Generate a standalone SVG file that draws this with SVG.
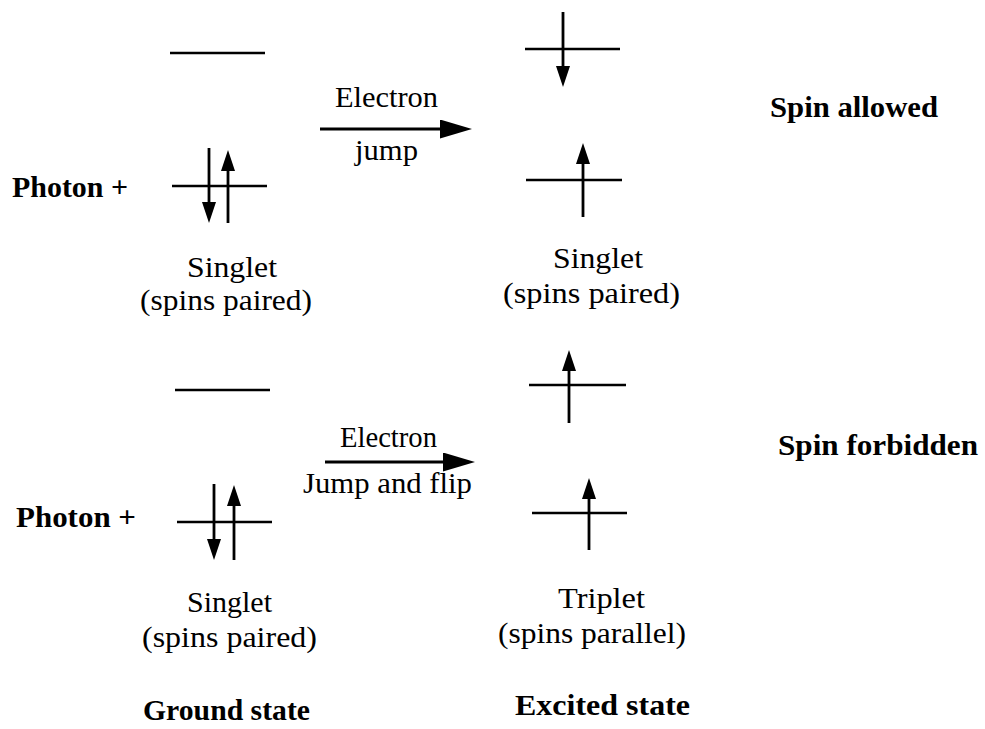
<svg xmlns="http://www.w3.org/2000/svg" width="985" height="729" viewBox="0 0 985 729">
<style>
.t{font-family:"Liberation Serif","Times New Roman",serif;font-size:29px;fill:#000}
.b{font-weight:bold}
.lv{stroke:#000;stroke-width:2.5;fill:none}
.sp{stroke:#000;stroke-width:2.8;fill:none;marker-end:url(#sh)}
.jp{stroke:#000;stroke-width:2.8;fill:none;marker-end:url(#jh)}
</style>
<defs>
<marker id="sh" markerUnits="userSpaceOnUse" markerWidth="21" markerHeight="14" refX="10" refY="7" orient="auto"><path d="M0,0 L21,7 L0,14 z" fill="#000"/></marker>
<marker id="jh" markerUnits="userSpaceOnUse" markerWidth="32" markerHeight="19" refX="16" refY="9.5" orient="auto"><path d="M0,0 L32,9.5 L0,19 z" fill="#000"/></marker>
</defs>
<rect width="985" height="729" fill="#fff"/>

<g id="ground-top">
<line class="lv" x1="170" y1="53" x2="265" y2="53"/>
<line class="lv" x1="172" y1="186" x2="267" y2="186"/>
<line class="sp" x1="209" y1="148" x2="209" y2="212"/>
<line class="sp" x1="228" y1="223" x2="228" y2="161"/>
<text class="t b" x="12" y="197" textLength="116" lengthAdjust="spacingAndGlyphs">Photon +</text>
<text class="t" x="187" y="277" textLength="90" lengthAdjust="spacingAndGlyphs">Singlet</text>
<text class="t" x="140" y="310" textLength="172" lengthAdjust="spacingAndGlyphs">(spins paired)</text>
</g>

<g id="excited-top">
<line class="lv" x1="525" y1="49" x2="620" y2="49"/>
<line class="lv" x1="526" y1="180" x2="622" y2="180"/>
<line class="sp" x1="563" y1="12" x2="563" y2="76"/>
<line class="sp" x1="583" y1="217" x2="583" y2="154"/>
<text class="t" x="553" y="268" textLength="90" lengthAdjust="spacingAndGlyphs">Singlet</text>
<text class="t" x="503" y="303" textLength="177" lengthAdjust="spacingAndGlyphs">(spins paired)</text>
</g>

<g id="ground-bottom">
<line class="lv" x1="175" y1="390" x2="270" y2="390"/>
<line class="lv" x1="177" y1="522" x2="272" y2="522"/>
<line class="sp" x1="214" y1="484" x2="214" y2="549"/>
<line class="sp" x1="234" y1="560" x2="234" y2="496"/>
<text class="t b" x="16" y="527" textLength="120" lengthAdjust="spacingAndGlyphs">Photon +</text>
<text class="t" x="187" y="612" textLength="85" lengthAdjust="spacingAndGlyphs">Singlet</text>
<text class="t" x="142" y="647" textLength="175" lengthAdjust="spacingAndGlyphs">(spins paired)</text>
</g>

<g id="excited-bottom">
<line class="lv" x1="529" y1="385" x2="626" y2="385"/>
<line class="lv" x1="532" y1="513" x2="627" y2="513"/>
<line class="sp" x1="569" y1="423" x2="569" y2="361"/>
<line class="sp" x1="589" y1="550" x2="589" y2="489"/>
<text class="t" x="558" y="608" textLength="87" lengthAdjust="spacingAndGlyphs">Triplet</text>
<text class="t" x="498" y="643" textLength="188" lengthAdjust="spacingAndGlyphs">(spins parallel)</text>
</g>

<g id="labels">
<text class="t b" x="770" y="117" textLength="168" lengthAdjust="spacingAndGlyphs">Spin allowed</text>
<text class="t b" x="778" y="455" textLength="200" lengthAdjust="spacingAndGlyphs">Spin forbidden</text>
<text class="t b" x="143" y="720" textLength="167" lengthAdjust="spacingAndGlyphs">Ground state</text>
<text class="t b" x="515" y="715" textLength="175" lengthAdjust="spacingAndGlyphs">Excited state</text>
</g>

<g id="connectors">
<line class="jp" x1="320" y1="129" x2="456" y2="129"/>
<text class="t" x="335" y="107" textLength="103" lengthAdjust="spacingAndGlyphs">Electron</text>
<text class="t" x="355" y="160" textLength="63" lengthAdjust="spacingAndGlyphs">jump</text>
<line class="jp" x1="325" y1="462" x2="459" y2="462"/>
<text class="t" x="340" y="447" textLength="97" lengthAdjust="spacingAndGlyphs">Electron</text>
<text class="t" x="303" y="493" textLength="169" lengthAdjust="spacingAndGlyphs">Jump and flip</text>
</g>
</svg>
